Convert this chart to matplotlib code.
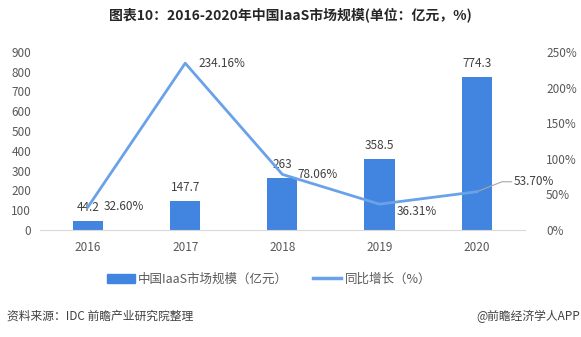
import matplotlib
matplotlib.use("Agg")
import matplotlib.pyplot as plt
from matplotlib.lines import Line2D
from matplotlib.patches import Patch

plt.rcParams['font.family'] = ['Noto Sans CJK SC', 'DejaVu Sans']

years = ["2016", "2017", "2018", "2019", "2020"]
scale = [44.2, 147.7, 263, 358.5, 774.3]
growth = [32.60, 234.16, 78.06, 36.31, 53.70]

bar_color = "#4285e0"
line_color = "#6aa2ea"
tick_color = "#595959"

fig = plt.figure(figsize=(5.81, 3.37), dpi=100)
ax = fig.add_axes([0.068, 0.3175, 0.836, 0.5285])
ax2 = ax.twinx()

x = list(range(len(years)))
ax.bar(x, scale, width=0.31, color=bar_color, zorder=2)
ax.set_xlim(-0.5, len(years) - 0.5)
ax.set_ylim(0, 900)
ax.set_yticks(range(0, 901, 100))
ax.set_xticks(x)
ax.set_xticklabels(years)

for xi, v in zip(x, scale):
    ax.text(xi, v + 36, f"{v:g}", ha="center", va="bottom", fontsize=8.5, color="#404040")

ax2.plot(x, growth, color=line_color, lw=2, zorder=3)
ax2.set_ylim(0, 250)
ax2.set_yticks(range(0, 251, 50))
ax2.set_yticklabels([f"{t}%" for t in range(0, 251, 50)])

# growth labels, placed beside each point
offsets = [(0.16, 0), (0.14, 0), (0.155, 0), (0.18, -11), (0.38, 14)]
for xi, g, (dx, dy) in zip(x, growth, offsets):
    ax2.text(xi + dx, g + dy, f"{g:.2f}%", ha="left", va="center", fontsize=8.5, color="#404040")
# leader line for the last label
ax2.plot([x[-1] + 0.01, x[-1] + 0.26, x[-1] + 0.36],
         [growth[-1] + 0.5, growth[-1] + 14, growth[-1] + 14], color="#a6a6a6", lw=0.8)

for a in (ax, ax2):
    for s in a.spines.values():
        s.set_visible(False)
    a.tick_params(length=0, labelsize=8.5, labelcolor=tick_color)
ax.spines["bottom"].set_visible(True)
ax.spines["bottom"].set_color("#d9d9d9")
ax.tick_params(axis="x", pad=8)
ax.tick_params(axis="y", pad=6)
ax2.tick_params(axis="y", pad=15)

fig.text(0.5, 0.955, "图表10：2016-2020年中国IaaS市场规模(单位：亿元，%)", ha="center", va="center",
         fontsize=10, fontweight="bold", color="#262626")

handles = [Patch(color=bar_color), Line2D([0], [0], color=line_color, lw=2.5)]
fig.legend(handles, ["中国IaaS市场规模（亿元）", "同比增长（%）"], loc="center",
           bbox_to_anchor=(0.463, 0.172), ncol=2, frameon=False, fontsize=9,
           handlelength=2.2, handletextpad=0.3, columnspacing=2.0, labelcolor=tick_color)

fig.text(0.012, 0.062, "资料来源：IDC 前瞻产业研究院整理", ha="left", va="center", fontsize=8.5, color="#404040")
fig.text(0.998, 0.062, "@前瞻经济学人APP", ha="right", va="center", fontsize=8.5, color="#404040")

fig.savefig("out.png", dpi=100)
